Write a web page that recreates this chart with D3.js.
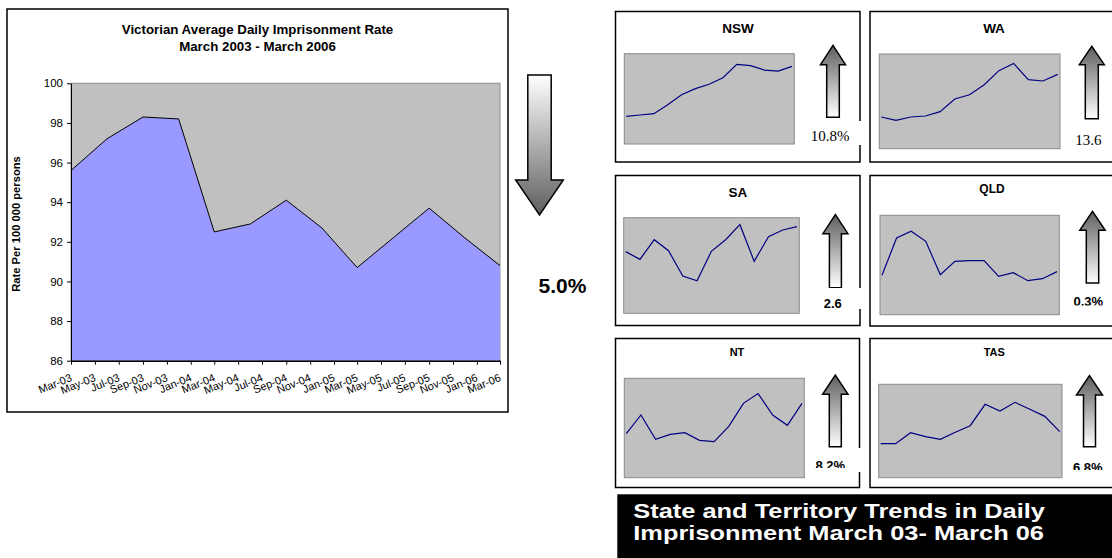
<!DOCTYPE html>
<html>
<head>
<meta charset="utf-8">
<script src="https://cdn.jsdelivr.net/npm/d3@7"></script>
<style>
  body { margin: 0; background: #fff; }
  svg { display: block; }
</style>
</head>
<body>
<svg id="chart" width="1112" height="558"></svg>
<script>
// ---- data ----
var quarters = ["Mar-03", "Jun-03", "Sep-03", "Dec-03", "Mar-04", "Jun-04", "Sep-04",
                "Dec-04", "Mar-05", "Jun-05", "Sep-05", "Dec-05", "Mar-06"];
var vicRate = [95.6, 97.2, 98.3, 98.2, 92.5, 92.9, 94.1, 92.7, 90.7, 92.2, 93.7, 92.2, 90.8];
var tickLabels = ["Mar-03", "May-03", "Jul-03", "Sep-03", "Nov-03", "Jan-04", "Mar-04",
                  "May-04", "Jul-04", "Sep-04", "Nov-04", "Jan-05", "Mar-05", "May-05",
                  "Jul-05", "Sep-05", "Nov-05", "Jan-06", "Mar-06"];
var yTicks = [86, 88, 90, 92, 94, 96, 98, 100];
var vicChange = "5.0%";

// state trends have no axis: relative height in their plot box (0 = bottom, 100 = top)
var states = ["NSW", "WA", "SA", "QLD", "NT", "TAS"];
var nswTrend = [30.6, 32.1, 33.6, 43.5, 54.6, 61.3, 66.1, 73.4, 88.2, 86.7, 81.9, 80.8, 86.0];
var waTrend  = [33.5, 29.9, 33.5, 34.5, 39.1, 52.5, 57.0, 67.6, 82.4, 90.1, 72.9, 71.5, 78.5];
var saTrend  = [64.5, 56.4, 77.0, 65.5, 39.0, 34.1, 64.8, 77.0, 92.7, 54.4, 80.1, 87.1, 90.6];
var qldTrend = [39.6, 77.2, 83.9, 73.8, 40.3, 53.7, 54.4, 54.4, 38.6, 42.3, 34.2, 36.2, 43.3];
var ntTrend  = [44.3, 63.1, 38.6, 43.6, 45.3, 37.6, 36.2, 51.7, 74.8, 84.6, 63.1, 52.7, 74.8];
var tasTrend = [36.4, 36.4, 48.2, 43.9, 41.1, 48.6, 55.7, 78.6, 71.4, 80.7, 73.2, 65.7, 49.3];
var changeLabels = ["10.8%", "13.6", "2.6", "0.3%", "8.2%", "6.8%"];
var bottomTitle = ["State and Territory Trends in Daily", "Imprisonment March 03- March 06"];

var sans = "'Liberation Sans', Arial, sans-serif";
var serif = "'Liberation Serif', 'Times New Roman', serif";
var parse = d3.timeParse("%b-%y");

var svg = d3.select("#chart");
var defs = svg.append("defs");

var gDown = defs.append("linearGradient").attr("id", "gradDown")
  .attr("x1", 0).attr("y1", 0).attr("x2", 0).attr("y2", 1);
gDown.append("stop").attr("offset", "0%").attr("stop-color", "#ffffff");
gDown.append("stop").attr("offset", "100%").attr("stop-color", "#5e5e5e");
var gUp = defs.append("linearGradient").attr("id", "gradUp")
  .attr("x1", 0).attr("y1", 0).attr("x2", 0).attr("y2", 1);
gUp.append("stop").attr("offset", "0%").attr("stop-color", "#5e5e5e");
gUp.append("stop").attr("offset", "100%").attr("stop-color", "#ffffff");

// ---- Victorian chart ----
svg.append("rect")
  .attr("x", 7).attr("y", 9).attr("width", 501).attr("height", 403)
  .attr("fill", "#fff").attr("stroke", "#000").attr("stroke-width", 1.5);

svg.append("text")
  .attr("x", 257.5).attr("y", 34)
  .attr("text-anchor", "middle")
  .style("font-family", sans).style("font-weight", "bold").style("font-size", "13.3px")
  .text("Victorian Average Daily Imprisonment Rate");
svg.append("text")
  .attr("x", 257.5).attr("y", 51)
  .attr("text-anchor", "middle")
  .style("font-family", sans).style("font-weight", "bold").style("font-size", "13.3px")
  .text("March 2003 - March 2006");

var x = d3.scaleTime()
  .domain([parse(tickLabels[0]), parse(tickLabels[tickLabels.length - 1])])
  .range([71, 500]);
var y = d3.scaleLinear().domain([86, 100]).range([360.7, 83.3]);

var vic = quarters.map(function (q, i) { return { date: parse(q), v: vicRate[i] }; });

svg.append("rect")
  .attr("x", x.range()[0]).attr("y", y(100))
  .attr("width", x.range()[1] - x.range()[0]).attr("height", y(86) - y(100))
  .attr("fill", "#c0c0c0").attr("stroke", "#8c8c8c").attr("stroke-width", 1);

svg.append("path").datum(vic)
  .attr("fill", "#9999ff")
  .attr("d", d3.area().x(function (d) { return x(d.date); })
    .y0(y(86)).y1(function (d) { return y(d.v); }));
svg.append("path").datum(vic)
  .attr("fill", "none").attr("stroke", "#000").attr("stroke-width", 1)
  .attr("d", d3.line().x(function (d) { return x(d.date); }).y(function (d) { return y(d.v); }));

var yAxis = svg.append("g").attr("transform", "translate(71,0)")
  .call(d3.axisLeft(y).tickValues(yTicks).tickSize(4).tickSizeOuter(0).tickPadding(4));
yAxis.selectAll("text").style("font-family", sans).style("font-size", "11.5px").attr("fill", "#000");
yAxis.selectAll("line").attr("stroke", "#000");
yAxis.select(".domain").attr("stroke", "#000");

var xAxis = svg.append("g").attr("transform", "translate(0,360.7)")
  .call(d3.axisBottom(x).tickValues(tickLabels.map(parse)).tickSize(4).tickSizeOuter(0)
    .tickFormat(""));
xAxis.selectAll("line").attr("stroke", "#000");
xAxis.select(".domain").attr("stroke", "#000").attr("stroke-width", 1.5);

svg.append("g").selectAll("text").data(tickLabels).enter().append("text")
  .attr("transform", function (d) { return "translate(" + x(parse(d)) + ",360.7) rotate(-22)"; })
  .attr("x", -6).attr("y", 19)
  .attr("text-anchor", "end")
  .style("font-family", sans).style("font-size", "11px")
  .text(function (d) { return d; });

svg.append("text")
  .attr("transform", "translate(20,224) rotate(-90)")
  .attr("text-anchor", "middle")
  .style("font-family", sans).style("font-weight", "bold").style("font-size", "11.2px")
  .text("Rate Per 100 000 persons");

// block arrow, tip at tipY, head base at headY, shaft end at endY
function arrowPath(cx, tipY, headY, endY, hw, sw) {
  return "M" + (cx - sw) + "," + endY + "H" + (cx + sw) + "V" + headY + "H" + (cx + hw) +
    "L" + cx + "," + tipY + "L" + (cx - hw) + "," + headY + "H" + (cx - sw) + "Z";
}
svg.append("path")
  .attr("d", arrowPath(539.5, 215, 180, 75, 23.8, 11.7))
  .attr("fill", "url(#gradDown)").attr("stroke", "#000").attr("stroke-width", 1.5);
svg.append("text")
  .attr("x", 562.5).attr("y", 293)
  .attr("text-anchor", "middle")
  .style("font-family", sans).style("font-weight", "bold").style("font-size", "21px")
  .text(vicChange);

// ---- state panels ----
var trends = [nswTrend, waTrend, saTrend, qldTrend, ntTrend, tasTrend];
var layout = [
  { box: [615.5, 11.5, 244.5, 150.5], tx: 738, ty: 33, tf: 13.5,
    plot: [624.3, 53.7, 170, 90.3],
    arrow: [833, 45.3, 64.7, 117.3, 12.5, 6.3],
    lab: { cover: [808.7, 121, 60, 24], x: 830, y: 140.7, serif: true, clip: 200 } },
  { box: [870, 11.5, 260, 150.5], tx: 994, ty: 33, tf: 13.5,
    plot: [879.3, 54, 180.7, 94.7],
    arrow: [1091.8, 46.3, 64.7, 118.7, 12.5, 6.5],
    lab: { cover: [1066, 124, 60, 26], x: 1088.3, y: 145.3, serif: true, clip: 200 } },
  { box: [615.5, 175.5, 244.5, 150], tx: 738, ty: 197, tf: 13.5,
    plot: [623.7, 217.7, 175.6, 95.6],
    arrow: [835.4, 214.7, 233.7, 287.7, 12.5, 6],
    lab: { cover: [812, 288, 56, 21], x: 832.7, y: 307.5, serif: false, clip: 308.5 } },
  { box: [870, 175.5, 260, 150.5], tx: 992, ty: 193, tf: 12,
    plot: [880, 215.3, 179.3, 99.4],
    arrow: [1092.5, 211.3, 230.3, 283, 12.7, 6.2],
    lab: { cover: [1064, 287, 60, 18], x: 1088.3, y: 305.5, serif: false, clip: 305.5 } },
  { box: [615.5, 338.5, 244, 149], tx: 737, ty: 355.7, tf: 11,
    plot: [624.3, 378.3, 180, 99.4],
    arrow: [835.3, 375, 394.3, 446.7, 12.7, 6],
    lab: { cover: [808, 448, 60, 24], x: 830.3, y: 469.5, serif: false, clip: 468 } },
  { box: [870, 338.5, 260, 149], tx: 994.3, ty: 355.7, tf: 11,
    plot: [878.7, 384.3, 183.3, 93.4],
    arrow: [1089.5, 375.7, 395, 446.7, 13, 6],
    lab: { cover: [1064, 448, 60, 24], x: 1087.7, y: 471.5, serif: false, clip: 470 } }
];

states.forEach(function (name, i) {
  var L = layout[i];
  var g = svg.append("g");
  g.append("rect")
    .attr("x", L.box[0]).attr("y", L.box[1]).attr("width", L.box[2]).attr("height", L.box[3])
    .attr("fill", "#fff").attr("stroke", "#000").attr("stroke-width", 1.5);
  g.append("text")
    .attr("x", L.tx).attr("y", L.ty).attr("text-anchor", "middle")
    .style("font-family", sans).style("font-weight", "bold").style("font-size", L.tf + "px")
    .text(name);

  var p = L.plot;
  g.append("rect")
    .attr("x", p[0]).attr("y", p[1]).attr("width", p[2]).attr("height", p[3])
    .attr("fill", "#c0c0c0").attr("stroke", "#8a8a8a").attr("stroke-width", 1);
  var sx = d3.scalePoint().domain(quarters).range([p[0] + 2, p[0] + p[2] - 2.3]);
  var sy = d3.scaleLinear().domain([0, 100]).range([p[1] + p[3], p[1]]);
  g.append("path").datum(trends[i])
    .attr("fill", "none").attr("stroke", "#000080").attr("stroke-width", 1.2)
    .attr("d", d3.line().x(function (d, j) { return sx(quarters[j]); }).y(function (d) { return sy(d); }));

  var a = L.arrow;
  g.append("path")
    .attr("d", arrowPath(a[0], a[1], a[2], a[3], a[4], a[5]))
    .attr("fill", "url(#gradUp)").attr("stroke", "#000").attr("stroke-width", 1.5);

  var c = L.lab.cover;
  g.append("rect").attr("x", c[0]).attr("y", c[1]).attr("width", c[2]).attr("height", c[3])
    .attr("fill", "#fff");
  defs.append("clipPath").attr("id", "clip" + i).append("rect")
    .attr("x", c[0]).attr("y", c[1] - 6).attr("width", c[2]).attr("height", L.lab.clip - c[1] + 6);
  g.append("text")
    .attr("x", L.lab.x).attr("y", L.lab.y).attr("text-anchor", "middle")
    .attr("clip-path", "url(#clip" + i + ")")
    .style("font-family", L.lab.serif ? serif : sans)
    .style("font-weight", L.lab.serif ? "normal" : "bold")
    .style("font-size", L.lab.serif ? "15px" : "13px")
    .text(changeLabels[i]);
});

// ---- bottom title box ----
svg.append("rect").attr("x", 617.3).attr("y", 494.3).attr("width", 500).attr("height", 70)
  .attr("fill", "#000");
// the source text is set wide, so stretch it horizontally
svg.append("g").attr("transform", "translate(633.3,0) scale(1.21,1)")
  .selectAll("text").data(bottomTitle).enter().append("text")
  .attr("x", 0).attr("y", function (d, i) { return 518.3 + i * 21.7; })
  .attr("fill", "#fff")
  .style("font-family", sans).style("font-weight", "bold").style("font-size", "21px")
  .text(function (d) { return d; });
</script>
</body>
</html>
